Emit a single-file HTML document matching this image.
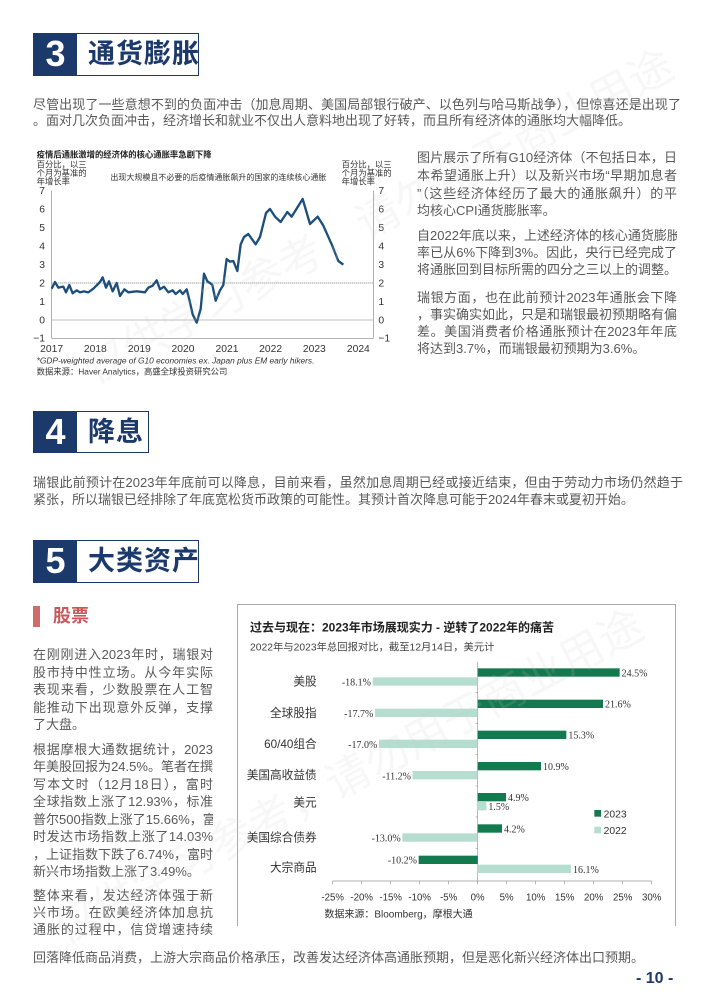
<!DOCTYPE html>
<html><head><meta charset="utf-8">
<style>
*{margin:0;padding:0;box-sizing:border-box}
body{width:710px;height:1004px;background:#fff;position:relative;overflow:hidden;font-family:"Liberation Sans","Noto Sans CJK SC",sans-serif;color:#595959}
.box{position:absolute;border:1.5px solid #1b3a6b;background:#fff}
.box .n{position:absolute;left:0;top:0;bottom:0;width:43px;background:#1b3a6b;color:#fff;font-weight:bold;font-size:36px;line-height:40px;text-align:center}
.box .t{position:absolute;left:54px;top:0;line-height:40px;font-size:27px;font-weight:bold;color:#1b3a6b;letter-spacing:1px;white-space:nowrap}
.l{position:absolute;font-size:13px;line-height:18px;white-space:nowrap;text-align:justify;text-align-last:justify;overflow:hidden}
.l.e{text-align-last:left}
.wm{position:absolute;color:rgba(200,200,200,0.15);font-size:44px;white-space:nowrap;transform:rotate(-28deg);transform-origin:left top}
</style></head><body>

<div class="box" style="left:33px;top:33px;width:166px;height:43px"><div class="n">3</div><div class="t">通货膨胀</div></div>
<div class="l" style="left:33px;top:96px;width:648px">尽管出现了一些意想不到的负面冲击（加息周期、美国局部银行破产、以色列与哈马斯战争），但惊喜还是出现了</div>
<div class="l e" style="left:33px;top:112px;width:648px">。面对几次负面冲击，经济增长和就业不仅出人意料地出现了好转，而且所有经济体的通胀均大幅降低。</div>

<svg style="position:absolute;left:30px;top:140px" width="370" height="240" viewBox="0 0 1110 720" font-family="Liberation Sans, Noto Sans CJK SC, sans-serif">
<text x="20" y="52" font-size="25" font-weight="bold" fill="#222">疫情后通胀激增的经济体的核心通胀率急剧下降</text>
<text x="20" y="82" font-size="25" fill="#333">百分比，以三</text>
<text x="20" y="108" font-size="25" fill="#333">个月为基准的</text>
<text x="20" y="134" font-size="25" fill="#333">年增长率</text>
<text x="935" y="82" font-size="25" fill="#333">百分比，以三</text>
<text x="935" y="108" font-size="25" fill="#333">个月为基准的</text>
<text x="935" y="134" font-size="25" fill="#333">年增长率</text>
<text x="565" y="120" font-size="24" fill="#333" text-anchor="middle">出现大规模且不必要的后疫情通胀飙升的国家的连续核心通胀</text>
<g stroke="#888" stroke-width="2" fill="none">
<line x1="65" y1="152" x2="65" y2="595"/><line x1="1030" y1="152" x2="1030" y2="595"/>
<line x1="65" y1="595" x2="1030" y2="595"/>
<line x1="65" y1="540" x2="1030" y2="540" stroke="#aaa"/>
</g>
<line x1="65" y1="429" x2="1030" y2="429" stroke="#555" stroke-width="2" stroke-dasharray="3,3"/>
<g font-size="31" fill="#333">
<text x="45" y="162" text-anchor="end">7</text><text x="45" y="218" text-anchor="end">6</text><text x="45" y="273" text-anchor="end">5</text><text x="45" y="328" text-anchor="end">4</text><text x="45" y="384" text-anchor="end">3</text><text x="45" y="439" text-anchor="end">2</text><text x="45" y="495" text-anchor="end">1</text><text x="45" y="550" text-anchor="end">0</text><text x="45" y="605" text-anchor="end">−1</text>
<text x="1045" y="162">7</text><text x="1045" y="218">6</text><text x="1045" y="273">5</text><text x="1045" y="328">4</text><text x="1045" y="384">3</text><text x="1045" y="439">2</text><text x="1045" y="495">1</text><text x="1045" y="550">0</text><text x="1045" y="605">−1</text>
<text x="65" y="636" text-anchor="middle">2017</text><text x="196" y="636" text-anchor="middle">2018</text><text x="328" y="636" text-anchor="middle">2019</text><text x="459" y="636" text-anchor="middle">2020</text><text x="591" y="636" text-anchor="middle">2021</text><text x="722" y="636" text-anchor="middle">2022</text><text x="853" y="636" text-anchor="middle">2023</text><text x="985" y="636" text-anchor="middle">2024</text>
</g>
<polyline fill="none" stroke="#1c4f7c" stroke-width="7" stroke-linejoin="round" points="65,446 75,426 85,443 100,440 108,457 118,435 128,460 140,451 150,457 162,454 175,457 190,446 210,426 218,412 228,443 237,424 248,454 260,429 270,468 283,448 295,457 320,454 345,457 355,443 368,437 380,421 390,448 402,440 415,457 428,451 437,462 450,451 458,462 470,448 478,479 488,523 500,548 512,507 522,401 532,424 540,429 547,435 557,482 570,451 580,435 590,357 600,365 610,363 622,393 632,313 642,291 655,282 677,313 690,291 708,219 720,207 735,230 752,246 772,216 785,230 818,177 840,252 863,230 880,257 905,313 925,363 940,374"/>
<text x="20" y="670" font-size="25" font-style="italic" fill="#333">*GDP-weighted average of G10 economies ex. Japan plus EM early hikers.</text>
<text x="20" y="703" font-size="25" fill="#333">数据来源：Haver Analytics，高盛全球投资研究公司</text>
</svg>

<div class="l" style="left:417px;top:149px;width:260px">图片展示了所有G10经济体（不包括日本，日</div>
<div class="l" style="left:417px;top:167px;width:260px">本希望通胀上升）以及新兴市场“早期加息者</div>
<div class="l" style="left:417px;top:185px;width:260px">”（这些经济体经历了最大的通胀飙升）的平</div>
<div class="l e" style="left:417px;top:202px;width:260px">均核心CPI通货膨胀率。</div>
<div class="l" style="left:417px;top:227px;width:260px">自2022年底以来，上述经济体的核心通货膨胀</div>
<div class="l" style="left:417px;top:244px;width:260px">率已从6%下降到3%。因此，央行已经完成了</div>
<div class="l e" style="left:417px;top:261px;width:260px">将通胀回到目标所需的四分之三以上的调整。</div>
<div class="l" style="left:417px;top:289px;width:260px">瑞银方面，也在此前预计2023年通胀会下降</div>
<div class="l" style="left:417px;top:306px;width:260px">，事实确实如此，只是和瑞银最初预期略有偏</div>
<div class="l" style="left:417px;top:323px;width:260px">差。美国消费者价格通胀预计在2023年年底</div>
<div class="l e" style="left:417px;top:340px;width:260px">将达到3.7%，而瑞银最初预期为3.6%。</div>

<div class="box" style="left:33px;top:411px;width:116px;height:42px"><div class="n">4</div><div class="t">降息</div></div>
<div class="l" style="left:33px;top:474px;width:650px">瑞银此前预计在2023年年底前可以降息，目前来看，虽然加息周期已经或接近结束，但由于劳动力市场仍然趋于</div>
<div class="l e" style="left:33px;top:491px;width:650px">紧张，所以瑞银已经排除了年底宽松货币政策的可能性。其预计首次降息可能于2024年春末或夏初开始。</div>

<div class="box" style="left:33px;top:540px;width:166px;height:43px"><div class="n">5</div><div class="t">大类资产</div></div>
<div style="position:absolute;left:33px;top:606px;width:7px;height:21px;background:#cf6b6b"></div>
<div style="position:absolute;left:53px;top:605px;font-size:18px;font-weight:bold;color:#c9585a;line-height:22px">股票</div>

<div class="l" style="left:33px;top:646px;width:180px">在刚刚进入2023年时，瑞银对</div>
<div class="l" style="left:33px;top:664px;width:180px">股市持中性立场。从今年实际</div>
<div class="l" style="left:33px;top:681px;width:180px">表现来看，少数股票在人工智</div>
<div class="l" style="left:33px;top:699px;width:180px">能推动下出现意外反弹，支撑</div>
<div class="l e" style="left:33px;top:716px;width:180px">了大盘。</div>
<div class="l" style="left:33px;top:741px;width:180px">根据摩根大通数据统计，2023</div>
<div class="l" style="left:33px;top:758px;width:180px">年美股回报为24.5%。笔者在撰</div>
<div class="l" style="left:33px;top:776px;width:180px">写本文时（12月18日），富时</div>
<div class="l" style="left:33px;top:793px;width:180px">全球指数上涨了12.93%，标准</div>
<div class="l" style="left:33px;top:811px;width:180px">普尔500指数上涨了15.66%，富</div>
<div class="l" style="left:33px;top:828px;width:180px">时发达市场指数上涨了14.03%</div>
<div class="l" style="left:33px;top:846px;width:180px">，上证指数下跌了6.74%，富时</div>
<div class="l e" style="left:33px;top:863px;width:180px">新兴市场指数上涨了3.49%。</div>
<div class="l" style="left:33px;top:887px;width:180px">整体来看，发达经济体强于新</div>
<div class="l" style="left:33px;top:904px;width:180px">兴市场。在欧美经济体加息抗</div>
<div class="l" style="left:33px;top:921px;width:180px">通胀的过程中，信贷增速持续</div>

<div style="position:absolute;left:237px;top:604px;width:439px;height:322px;border:1px solid #aaa;border-bottom:none"></div>
<svg style="position:absolute;left:235px;top:605px" width="440" height="320" viewBox="0 0 1320 960" font-family="Liberation Sans, Noto Sans CJK SC, sans-serif">
<text x="45" y="80" font-size="36" font-weight="bold" fill="#222">过去与现在：2023年市场展现实力 - 逆转了2022年的痛苦</text>
<text x="45" y="136" font-size="31" fill="#444">2022年与2023年总回报对比，截至12月14日，美元计</text>
<g stroke="#999" stroke-width="2">
<line x1="728" y1="170" x2="728" y2="828"/><line x1="293" y1="828" x2="1250" y2="828"/>
<line x1="293" y1="828" x2="293" y2="838"/><line x1="380" y1="828" x2="380" y2="838"/><line x1="467" y1="828" x2="467" y2="838"/><line x1="554" y1="828" x2="554" y2="838"/><line x1="641" y1="828" x2="641" y2="838"/><line x1="728" y1="828" x2="728" y2="838"/><line x1="815" y1="828" x2="815" y2="838"/><line x1="902" y1="828" x2="902" y2="838"/><line x1="989" y1="828" x2="989" y2="838"/><line x1="1076" y1="828" x2="1076" y2="838"/><line x1="1163" y1="828" x2="1163" y2="838"/><line x1="1250" y1="828" x2="1250" y2="838"/>
<line x1="722" y1="262" x2="728" y2="262"/><line x1="722" y1="356" x2="728" y2="356"/><line x1="722" y1="449" x2="728" y2="449"/><line x1="722" y1="543" x2="728" y2="543"/><line x1="722" y1="636" x2="728" y2="636"/><line x1="722" y1="730" x2="728" y2="730"/>
</g>
<g fill="#137a4f">
<rect x="728" y="190" width="426" height="25"/><rect x="728" y="284" width="376" height="25"/><rect x="728" y="377" width="266" height="25"/><rect x="728" y="471" width="190" height="25"/><rect x="728" y="564" width="85" height="25"/><rect x="728" y="658" width="73" height="25"/><rect x="551" y="752" width="177" height="25"/>
<rect x="1078" y="615" width="20" height="20"/>
</g>
<g fill="#b5ddd0">
<rect x="413" y="217" width="315" height="25"/><rect x="420" y="311" width="308" height="25"/><rect x="432" y="404" width="296" height="25"/><rect x="533" y="498" width="195" height="25"/><rect x="728" y="591" width="26" height="25"/><rect x="502" y="685" width="226" height="25"/><rect x="728" y="779" width="280" height="25"/>
<rect x="1078" y="665" width="20" height="20"/>
</g>
<g font-size="30" fill="#333" font-family="Liberation Serif, serif">
<text x="1160" y="214">24.5%</text><text x="408" y="242" text-anchor="end">-18.1%</text>
<text x="1110" y="308">21.6%</text><text x="415" y="336" text-anchor="end">-17.7%</text>
<text x="1000" y="401">15.3%</text><text x="427" y="429" text-anchor="end">-17.0%</text>
<text x="924" y="495">10.9%</text><text x="528" y="523" text-anchor="end">-11.2%</text>
<text x="819" y="588">4.9%</text><text x="760" y="615">1.5%</text>
<text x="807" y="682">4.2%</text><text x="497" y="710" text-anchor="end">-13.0%</text>
<text x="546" y="776" text-anchor="end">-10.2%</text><text x="1014" y="804">16.1%</text>
</g>
<g font-size="35" fill="#333" text-anchor="end">
<text x="245" y="242">美股</text><text x="245" y="336">全球股指</text><text x="245" y="429">60/40组合</text><text x="245" y="522">美国高收益债</text><text x="245" y="604">美元</text><text x="245" y="710">美国综合债券</text><text x="245" y="800">大宗商品</text>
</g>
<text x="1106" y="637" font-size="31" fill="#333">2023</text>
<text x="1106" y="687" font-size="31" fill="#333">2022</text>
<g font-size="29" fill="#333" text-anchor="middle">
<text x="293" y="886">-25%</text><text x="380" y="886">-20%</text><text x="467" y="886">-15%</text><text x="554" y="886">-10%</text><text x="641" y="886">-5%</text><text x="728" y="886">0%</text><text x="815" y="886">5%</text><text x="902" y="886">10%</text><text x="989" y="886">15%</text><text x="1076" y="886">20%</text><text x="1163" y="886">25%</text><text x="1250" y="886">30%</text>
</g>
<text x="268" y="937" font-size="30" fill="#333">数据来源：Bloomberg，摩根大通</text>
</svg>

<div class="l e" style="left:33px;top:949px;width:650px">回落降低商品消费，上游大宗商品价格承压，改善发达经济体高通胀预期，但是恶化新兴经济体出口预期。</div>
<div style="position:absolute;left:636px;top:969px;font-size:16px;font-weight:bold;color:#1b3a6b;line-height:20px">- 10 -</div>

<div class="wm" style="left:70px;top:340px">仅供学习参考，请勿用于商业用途</div>
<div class="wm" style="left:40px;top:900px">仅供学习参考，请勿用于商业用途</div>
</body></html>
